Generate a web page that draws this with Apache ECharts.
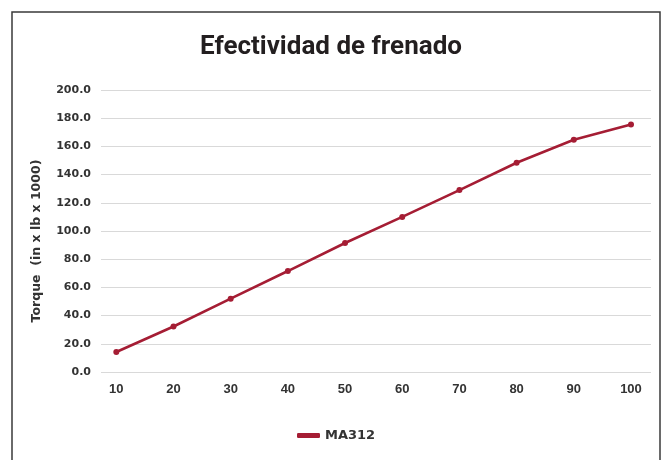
<!DOCTYPE html>
<html>
<head>
<meta charset="utf-8">
<script src="https://cdn.jsdelivr.net/npm/echarts@6/dist/echarts.min.js"></script>
<style>
  html, body { margin: 0; padding: 0; background: #fff; }
  #chart { width: 662px; height: 460px; }
</style>
</head>
<body>
<div id="chart"></div>
<script>
// speed / torque readings
const speeds = [10, 20, 30, 40, 50, 60, 70, 80, 90, 100];
const torqueMA312 = [14.2, 32.3, 52.0, 71.6, 91.5, 110.0, 129.0, 148.4, 164.7, 175.6];
const yTicks = [0, 20, 40, 60, 80, 100, 120, 140, 160, 180, 200];

const lineColor = '#a51d34';
const textColor = '#333333';

const chart = echarts.init(document.getElementById('chart'));

chart.setOption({
  backgroundColor: '#fff',
  animation: false,
  title: {
    text: 'Efectividad de frenado',
    left: 'center',
    top: 29,
    textStyle: {
      fontFamily: 'Roboto',
      fontWeight: 'bold',
      fontSize: 26,
      color: '#231f20'
    }
  },
  graphic: [{
    type: 'rect',
    shape: { x: 12, y: 12, width: 648, height: 470 },
    style: { fill: 'none', stroke: '#3a3a3a', lineWidth: 1.5 },
    silent: true
  }],
  legend: {
    bottom: 13,
    left: 292,
    icon: 'roundRect',
    itemWidth: 23,
    itemHeight: 5,
    itemGap: 7,
    textStyle: {
      fontFamily: 'DejaVu Sans',
      fontWeight: 'bold',
      fontSize: 13,
      color: textColor
    },
    data: ['MA312']
  },
  grid: {
    left: 101,
    right: 11,
    top: 90,
    bottom: 88
  },
  xAxis: {
    type: 'value',
    min: 7.325,
    max: 103.5,
    axisLine: { show: false },
    axisTick: { show: false },
    splitLine: { show: false },
    axisLabel: {
      customValues: speeds,
      margin: 11,
      fontFamily: 'Liberation Sans',
      fontWeight: 'bold',
      fontSize: 13,
      color: textColor
    }
  },
  yAxis: {
    type: 'value',
    min: 0,
    max: 200,
    interval: 20,
    name: 'Torque  (in x lb x 1000)',
    nameLocation: 'middle',
    nameGap: 58,
    nameTextStyle: {
      fontFamily: 'DejaVu Sans',
      fontWeight: 'bold',
      fontSize: 12.5,
      color: textColor,
      padding: [0, 20, 0, 0]
    },
    axisLine: { show: false },
    axisTick: { show: false },
    splitLine: { lineStyle: { color: '#d9d9d9', width: 1 } },
    axisLabel: {
      margin: 10,
      fontFamily: 'DejaVu Sans',
      fontWeight: 'bold',
      fontSize: 11,
      color: textColor,
      formatter: v => yTicks.includes(v) ? v.toFixed(1) : ''
    }
  },
  series: [{
    name: 'MA312',
    type: 'line',
    data: speeds.map((s, i) => [s, torqueMA312[i]]),
    symbol: 'circle',
    symbolSize: 6,
    lineStyle: { color: lineColor, width: 2.6 },
    itemStyle: { color: lineColor }
  }]
});
</script>
</body>
</html>
